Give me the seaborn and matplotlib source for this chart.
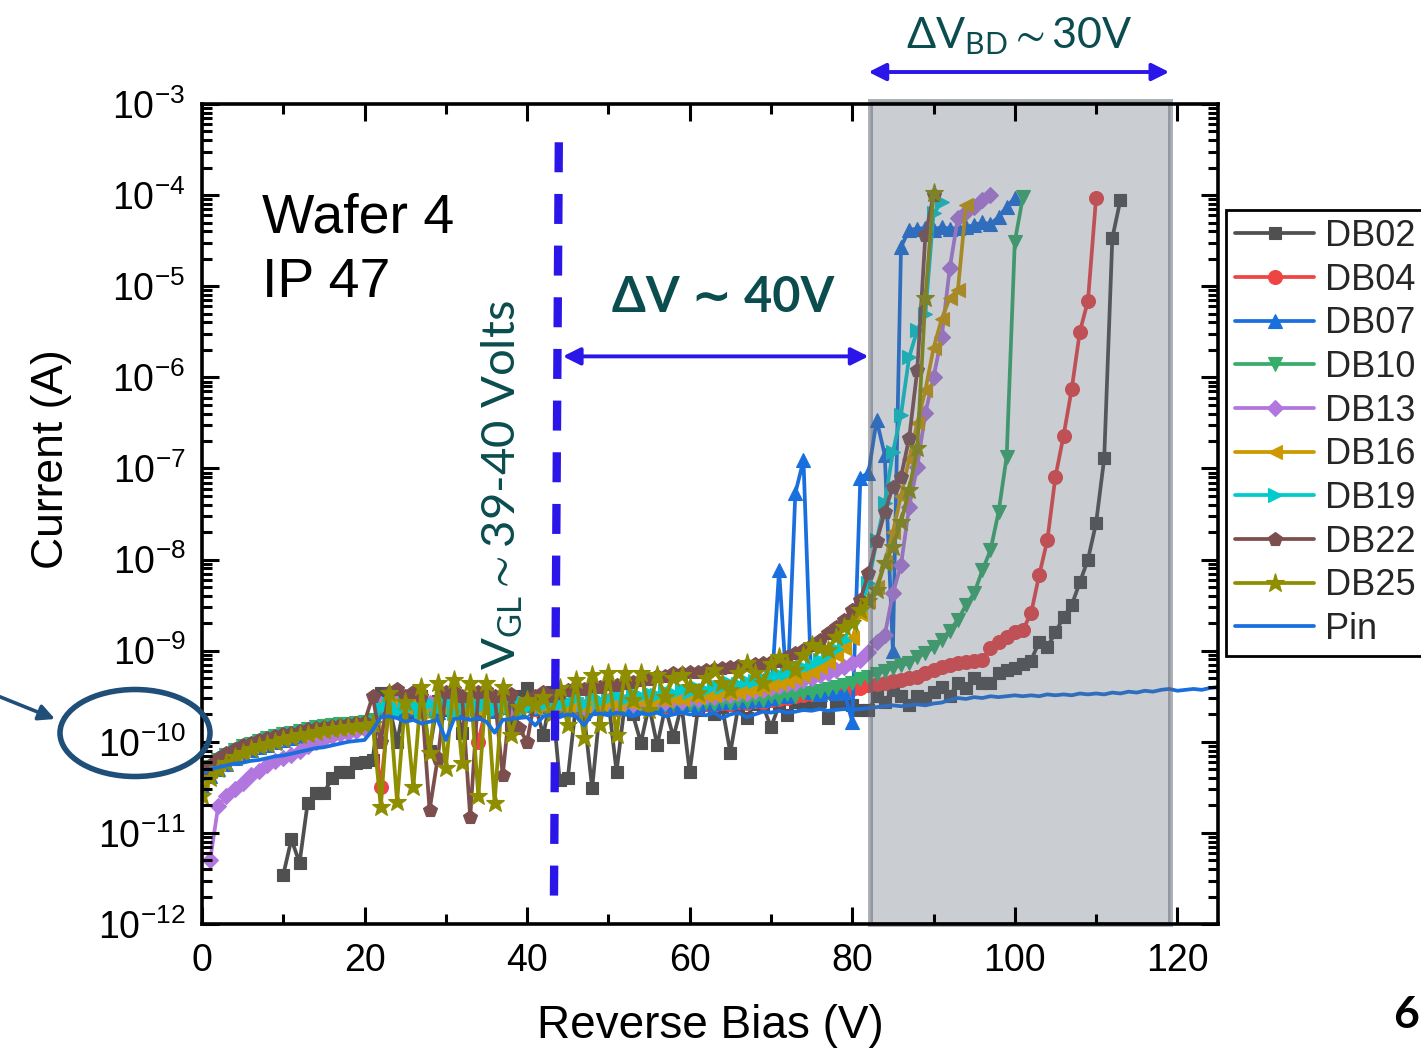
"""Reverse-bias I-V sweep of wafer 4 / IP 47 devices (DB02..DB25 and Pin)."""

import numpy as np
import matplotlib

matplotlib.use("Agg")
import matplotlib.pyplot as plt  # noqa: E402
from matplotlib.patches import Ellipse, FancyArrowPatch, Rectangle  # noqa: E402
from matplotlib.ticker import LogLocator, MultipleLocator, NullFormatter  # noqa: E402
import seaborn as sns  # noqa: E402

# bias sweep, 1 V steps; each device starts at its own first bias point
BIAS_V = np.arange(0, 126)

# log10 of the measured current (A), one value per volt
DB02_START = 10
DB02_LOG_I = [
    -11.46, -11.07, -11.33, -10.67, -10.56, -10.56, -10.40, -10.33, -10.33, -10.23,  # 10-19
    -10.22, -10.20, -9.47, -9.60, -10.00, -9.55, -9.70, -9.50, -10.10, -9.55,  # 20-29
    -9.65, -9.50, -9.90, -9.55, -9.70, -9.50, -9.60, -9.55, -9.80, -9.50,  # 30-39
    -9.41, -9.60, -9.93, -9.45, -10.42, -10.40, -9.60, -9.70, -10.51, -9.60,  # 40-49
    -9.55, -10.33, -9.60, -9.70, -10.01, -9.60, -10.04, -9.62, -9.95, -9.60,  # 50-59
    -10.33, -9.65, -9.60, -9.70, -9.62, -10.12, -9.60, -9.74, -9.58, -9.60,  # 60-69
    -9.84, -9.60, -9.71, -9.56, -9.60, -9.58, -9.55, -9.74, -9.56, -9.58,  # 70-79
    -9.60, -9.65, -9.65, -9.50, -9.56, -9.43, -9.50, -9.60, -9.50, -9.52,  # 80-89
    -9.45, -9.40, -9.50, -9.35, -9.41, -9.30, -9.35, -9.36, -9.25, -9.21,  # 90-99
    -9.19, -9.15, -9.11, -8.90, -8.96, -8.80, -8.63, -8.50, -8.25, -8.00,  # 100-109
    -7.60, -6.89, -4.47, -4.05,  # 110-113
]

DB04_START = 0
DB04_LOG_I = [
    -10.45, -10.35, -10.26, -10.20, -10.15, -10.10, -10.06, -10.03, -10.00, -9.98,
    -9.96, -9.94, -9.92, -9.90, -9.88, -9.87, -9.86, -9.85, -9.84, -9.83,
    -9.82, -9.80, -10.50, -9.62, -9.60, -9.58, -9.63, -9.60, -9.65, -9.60,
    -9.62, -9.66, -9.60, -9.62, -10.00, -9.60, -9.63, -9.60, -9.65, -9.62,
    -9.60, -9.64, -9.61, -9.63, -9.60, -9.64, -9.62, -9.65, -9.62, -9.64,
    -9.61, -9.64, -9.62, -9.63, -9.61, -9.63, -9.60, -9.62, -9.60, -9.62,
    -9.59, -9.61, -9.58, -9.60, -9.57, -9.58, -9.56, -9.57, -9.55, -9.56,
    -9.54, -9.53, -9.52, -9.50, -9.49, -9.48, -9.46, -9.45, -9.43, -9.42,
    -9.42, -9.41, -9.38, -9.37, -9.35, -9.33, -9.32, -9.30, -9.29, -9.25,
    -9.21, -9.18, -9.16, -9.14, -9.12, -9.11, -9.10, -8.97, -8.90, -8.85,
    -8.80, -8.77, -8.59, -8.17, -7.79, -7.09, -6.64, -6.13, -5.50, -5.16,
    -4.03,
]

DB07_START = 0
DB07_LOG_I = [
    -10.48, -10.38, -10.30, -10.24, -10.18, -10.13, -10.09, -10.06, -10.03, -10.00,
    -9.98, -9.96, -9.94, -9.92, -9.90, -9.88, -9.87, -9.86, -9.85, -9.84,
    -9.83, -9.81, -9.63, -9.60, -9.66, -9.61, -9.64, -9.60, -9.63, -9.67,
    -9.60, -9.62, -9.65, -9.60, -9.63, -9.61, -9.66, -9.60, -9.62, -9.64,
    -9.60, -9.63, -9.61, -9.65, -9.62, -9.63, -9.60, -9.64, -9.61, -9.63,
    -9.60, -9.62, -9.60, -9.63, -9.59, -9.61, -9.58, -9.60, -9.57, -9.59,
    -9.56, -9.58, -9.55, -9.57, -9.55, -9.56, -9.54, -9.55, -9.53, -9.54,
    -9.52, -8.12, -9.50, -7.27, -6.91, -9.45, -9.48, -9.44, -9.46, -9.45,
    -9.78, -7.10, -7.05, -6.47, -6.85, -9.00, -4.57, -4.38, -4.37, -4.36,
    -4.38, -4.35, -4.37, -4.36, -4.35, -4.33, -4.30, -4.32, -4.24, -4.13,
    -4.03,
]

DB10_START = 0
DB10_LOG_I = [
    -10.38, -10.28, -10.20, -10.14, -10.09, -10.05, -10.02, -9.99, -9.96, -9.94,
    -9.92, -9.90, -9.88, -9.86, -9.84, -9.83, -9.82, -9.81, -9.80, -9.79,
    -9.78, -9.76, -9.62, -9.60, -9.65, -9.58, -9.62, -9.60, -9.66, -9.59,
    -9.63, -9.60, -9.57, -9.64, -9.60, -9.62, -9.58, -9.63, -9.60, -9.65,
    -9.60, -9.62, -9.58, -9.63, -9.60, -9.62, -9.60, -9.64, -9.60, -9.62,
    -9.59, -9.63, -9.60, -9.61, -9.58, -9.62, -9.59, -9.60, -9.57, -9.60,
    -9.58, -9.59, -9.56, -9.58, -9.55, -9.57, -9.54, -9.55, -9.52, -9.54,
    -9.50, -9.52, -9.48, -9.50, -9.46, -9.47, -9.44, -9.42, -9.40, -9.38,
    -9.36, -9.31, -9.29, -9.26, -9.22, -9.19, -9.16, -9.14, -9.07, -9.03,
    -8.96, -8.88, -8.78, -8.66, -8.50, -8.37, -8.12, -7.90, -7.48, -6.87,
    -4.51, -4.02,
]

DB13_START = 1
DB13_LOG_I = [
    -11.30, -10.70, -10.60, -10.52, -10.45, -10.37, -10.32, -10.26, -10.21, -10.18,  # 1-10
    -10.15, -10.10, -10.05, -10.00, -9.97, -9.94, -9.92, -9.90, -9.88, -9.86,
    -9.83, -9.58, -9.62, -9.55, -9.60, -9.52, -9.63, -9.57, -9.60, -9.54,
    -9.62, -9.58, -9.55, -9.61, -9.57, -9.60, -9.55, -9.62, -9.58, -9.56,
    -9.60, -9.57, -9.62, -9.58, -9.60, -9.57, -9.62, -9.56, -9.60, -9.55,
    -9.59, -9.56, -9.58, -9.55, -9.57, -9.54, -9.56, -9.53, -9.55, -9.52,
    -9.53, -9.50, -9.51, -9.48, -9.49, -9.46, -9.46, -9.44, -9.43, -9.41,
    -9.39, -9.37, -9.35, -9.32, -9.30, -9.27, -9.24, -9.21, -9.18, -9.14,
    -9.10, -9.02, -8.90, -8.83, -8.37, -8.06, -7.42, -6.98, -6.39, -6.00,
    -5.56, -4.80, -4.25, -4.18, -4.13, -4.05, -4.00,  # 91-97
]

DB16_START = 0
DB16_LOG_I = [
    -10.42, -10.32, -10.24, -10.18, -10.13, -10.09, -10.05, -10.02, -10.00, -9.97,
    -9.95, -9.93, -9.91, -9.89, -9.87, -9.86, -9.85, -9.84, -9.83, -9.82,
    -9.81, -9.79, -9.60, -9.65, -9.55, -9.62, -9.58, -9.66, -9.60, -9.56,
    -9.64, -9.59, -9.62, -9.57, -9.65, -9.60, -9.58, -9.63, -9.57, -9.61,
    -9.58, -9.63, -9.60, -9.57, -9.60, -9.60, -9.58, -9.61, -9.57, -9.59,
    -9.56, -9.58, -9.55, -9.57, -9.54, -9.56, -9.53, -9.54, -9.52, -9.53,
    -9.50, -9.51, -9.49, -9.49, -9.47, -9.46, -9.45, -9.43, -9.42, -9.40,
    -9.38, -9.36, -9.33, -9.30, -9.27, -9.23, -9.18, -9.12, -9.05, -8.97,
    -8.86, -8.60, -8.45, -8.30, -8.03, -7.70, -7.30, -6.90, -6.50, -6.14,
    -5.68, -5.36, -5.13, -5.04, -4.11,
]

DB19_START = 0
DB19_LOG_I = [
    -10.40, -10.30, -10.22, -10.16, -10.11, -10.07, -10.04, -10.01, -9.98, -9.96,
    -9.94, -9.92, -9.90, -9.88, -9.86, -9.85, -9.84, -9.83, -9.82, -9.81,
    -9.80, -9.78, -9.62, -9.58, -9.66, -9.55, -9.60, -9.70, -9.57, -9.63,
    -9.56, -9.68, -9.60, -9.55, -9.62, -9.58, -9.65, -9.56, -9.60, -9.54,
    -9.62, -9.57, -9.60, -9.55, -9.58, -9.56, -9.52, -9.58, -9.50, -9.55,
    -9.52, -9.49, -9.53, -9.47, -9.50, -9.46, -9.49, -9.44, -9.47, -9.42,
    -9.45, -9.41, -9.43, -9.38, -9.40, -9.36, -9.37, -9.33, -9.33, -9.30,
    -9.28, -9.26, -9.24, -9.20, -9.18, -9.15, -9.10, -9.05, -8.98, -8.88,
    -8.70, -8.55, -8.26, -7.79, -7.38, -6.82, -6.41, -5.78, -5.48, -5.30,
    -4.20, -4.08,
]

DB22_START = 0
DB22_LOG_I = [
    -10.35, -10.25, -10.18, -10.12, -10.08, -10.04, -10.01, -9.98, -9.96, -9.94,
    -9.92, -9.90, -9.88, -9.86, -9.85, -9.84, -9.83, -9.82, -9.80, -9.79,
    -9.78, -9.50, -10.00, -9.45, -9.42, -9.50, -9.45, -9.50, -10.75, -10.18,
    -9.45, -9.42, -9.50, -10.83, -9.45, -9.43, -9.50, -10.37, -9.48, -9.85,
    -10.00, -9.50, -9.45, -9.50, -9.47, -9.43, -9.40, -9.42, -9.39, -9.40,
    -9.37, -9.38, -9.35, -9.34, -9.32, -9.31, -9.28, -9.28, -9.25, -9.25,
    -9.23, -9.23, -9.21, -9.20, -9.19, -9.18, -9.17, -9.16, -9.15, -9.14,
    -9.12, -9.11, -9.07, -9.03, -8.99, -8.94, -8.88, -8.81, -8.74, -8.66,
    -8.55, -8.44, -8.15, -7.80, -7.48, -7.20, -7.09, -6.67, -5.92, -4.44,
    -4.00,
]

DB25_START = 0
DB25_LOG_I = [
    -10.60, -10.40, -10.30, -10.23, -10.17, -10.12, -10.08, -10.05, -10.02, -10.00,
    -9.97, -9.95, -9.93, -9.91, -9.89, -9.87, -9.86, -9.85, -9.84, -9.83,
    -9.82, -9.80, -10.72, -9.47, -10.66, -9.56, -10.50, -9.40, -10.12, -9.36,
    -10.29, -9.32, -10.23, -9.36, -10.60, -9.36, -10.67, -9.40, -9.93, -9.62,
    -9.54, -9.60, -9.51, -9.70, -9.41, -9.82, -9.32, -9.96, -9.27, -9.82,
    -9.25, -9.93, -9.25, -9.54, -9.25, -9.65, -9.27, -9.51, -9.30, -9.27,
    -9.40, -9.47, -9.30, -9.21, -9.35, -9.43, -9.25, -9.14, -9.25, -9.36,
    -9.15, -9.07, -9.15, -9.21, -9.05, -8.94, -8.97, -8.99, -8.85, -8.74,
    -8.70, -8.55, -8.45, -8.33, -8.04, -7.86, -7.59, -7.24, -6.78, -5.13,
    -3.98,
]

PIN_START = 0
PIN_LOG_I = [
    -10.35, -10.30, -10.28, -10.26, -10.24, -10.23, -10.21, -10.20, -10.18, -10.16,
    -10.15, -10.13, -10.11, -10.09, -10.07, -10.06, -10.04, -10.02, -10.00, -9.99,
    -9.98, -9.87, -9.73, -9.72, -9.74, -9.78, -9.76, -9.80, -9.78, -9.76,
    -9.98, -9.75, -9.74, -9.76, -9.74, -9.78, -9.90, -9.76, -9.75, -9.74,
    -9.73, -9.82, -9.72, -9.70, -9.73, -9.70, -9.72, -9.82, -9.70, -9.69,
    -9.71, -9.68, -9.70, -9.72, -9.69, -9.70, -9.68, -9.72, -9.70, -9.68,
    -9.70, -9.69, -9.71, -9.68, -9.74, -9.70, -9.68, -9.73, -9.70, -9.67,
    -9.68, -9.66, -9.68, -9.67, -9.65, -9.66, -9.64, -9.66, -9.65, -9.64,
    -9.65, -9.64, -9.63, -9.62, -9.61, -9.60, -9.61, -9.60, -9.59, -9.60,
    -9.58, -9.57, -9.54, -9.52, -9.53, -9.51, -9.52, -9.50, -9.51, -9.50,
    -9.49, -9.50, -9.49, -9.50, -9.48, -9.49, -9.48, -9.49, -9.47, -9.48,
    -9.47, -9.48, -9.46, -9.47, -9.45, -9.46, -9.44, -9.45, -9.43, -9.42,
    -9.44, -9.43, -9.42, -9.43, -9.41, -9.40,
]

SERIES = [
    ("DB02", DB02_START, DB02_LOG_I),
    ("DB04", DB04_START, DB04_LOG_I),
    ("DB07", DB07_START, DB07_LOG_I),
    ("DB10", DB10_START, DB10_LOG_I),
    ("DB13", DB13_START, DB13_LOG_I),
    ("DB16", DB16_START, DB16_LOG_I),
    ("DB19", DB19_START, DB19_LOG_I),
    ("DB22", DB22_START, DB22_LOG_I),
    ("DB25", DB25_START, DB25_LOG_I),
    ("Pin", PIN_START, PIN_LOG_I),
]

X_TICKS = [0, 20, 40, 60, 80, 100, 120]
Y_TICK_EXPONENTS = [-12, -11, -10, -9, -8, -7, -6, -5, -4, -3]

_COLORS = {
    "DB02": "#505050",
    "DB04": "#ef4444",
    "DB07": "#1a6fdf",
    "DB10": "#37ad6b",
    "DB13": "#b177de",
    "DB16": "#cc9900",
    "DB19": "#00cbcc",
    "DB22": "#7d4e4e",
    "DB25": "#8e8e00",
    "Pin": "#1a6fdf",
}
_MARKERS = {
    "DB02": ("s", 9.0),
    "DB04": ("o", 10.0),
    "DB07": ("^", 10.5),
    "DB10": ("v", 10.5),
    "DB13": ("D", 8.5),
    "DB16": ("<", 10.5),
    "DB19": (">", 10.5),
    "DB22": ("p", 10.5),
    "DB25": ("*", 14.0),
    "Pin": (None, 0),
}
TEAL = "#0b4d4f"
ARROW_BLUE = "#2a16e8"
CIRCLE_BLUE = "#1f4e79"
ANNOT_FONT = ["Lato", "DejaVu Sans"]

W_PX, H_PX = 1421, 1058


def fig_xy(px, py):
    """Pixel position in the 1421x1058 canvas to figure fraction."""
    return px / W_PX, 1 - py / H_PX


sns.set_theme(style="ticks")
plt.rcParams.update(
    {
        "font.family": ["Liberation Sans", "DejaVu Sans"],
        "mathtext.fontset": "custom",
        "mathtext.rm": "Liberation Sans",
        "mathtext.it": "Liberation Sans:italic",
        "mathtext.bf": "Liberation Sans:bold",
        "mathtext.default": "regular",
        "axes.unicode_minus": True,
    }
)

fig = plt.figure(figsize=(W_PX / 100, H_PX / 100), dpi=100)
left, top = fig_xy(202, 104)
right, bottom = fig_xy(1218, 924)
ax = fig.add_axes([left, bottom, right - left, top - bottom])
ax.set_yscale("log")

for name, start, logs in SERIES:
    volts = BIAS_V[start:start + len(logs)]
    current = 10.0 ** np.asarray(logs)
    marker, msize = _MARKERS[name]
    sns.lineplot(
        x=volts,
        y=current,
        ax=ax,
        color=_COLORS[name],
        marker=marker,
        markersize=msize,
        markeredgecolor=_COLORS[name],
        markeredgewidth=0.8,
        linewidth=2.7,
        label=name,
        sort=False,
        estimator=None,
    )

handles, labels = ax.get_legend_handles_labels()
if ax.get_legend() is not None:
    ax.get_legend().remove()

ax.set_xlim(0, 125)
ax.set_ylim(1e-12, 1e-3)
ax.set_xticks(X_TICKS)
ax.xaxis.set_minor_locator(MultipleLocator(10))
ax.set_yticks(
    [10.0 ** e for e in Y_TICK_EXPONENTS],
    labels=[rf"$10^{{{e}}}$" for e in Y_TICK_EXPONENTS],
)
ax.yaxis.set_minor_locator(LogLocator(base=10, subs=np.arange(2, 10), numticks=30))
ax.yaxis.set_minor_formatter(NullFormatter())
ax.tick_params(which="both", direction="in", top=True, right=True, width=2.2,
               color="black", labelcolor="black")
ax.tick_params(which="major", length=12, labelsize=27)
ax.tick_params(which="minor", length=7)
ax.tick_params(axis="x", pad=14)
ax.tick_params(axis="y", pad=12)
for spine in ax.spines.values():
    spine.set_linewidth(2.6)
    spine.set_color("black")
    spine.set_zorder(7)
ax.set_axisbelow(False)
ax.xaxis.set_zorder(7)
ax.yaxis.set_zorder(7)

ax.set_xlabel("Reverse Bias (V)", fontsize=33, color="black")
ax.set_ylabel("Current (A)", fontsize=32, color="black")
ax.xaxis.set_label_coords(0.5, -0.097)
ax.yaxis.set_label_coords(-0.128, 0.567)

# translucent breakdown window laid over the curves
ax.add_patch(
    Rectangle(
        (82.2, 0), 119.1 - 82.2, 1.004,
        transform=ax.get_xaxis_transform(),
        facecolor=(0.37, 0.42, 0.48, 0.33),
        edgecolor=(0.36, 0.39, 0.43, 0.5),
        linewidth=3.6,
        zorder=4,
        clip_on=False,
    )
)

# gate-leakage marker and spacing arrows
ax.plot([43.9, 43.3], [10 ** -3.42, 10 ** -11.74], color=ARROW_BLUE, linewidth=6,
        dashes=(3.6, 2.6), zorder=6, solid_capstyle="butt")
ax.annotate(
    "", xy=(82.0, 10 ** -5.77), xytext=(44.4, 10 ** -5.77),
    arrowprops=dict(arrowstyle="<|-|>", color=ARROW_BLUE, lw=2.8,
                    mutation_scale=26, shrinkA=0, shrinkB=0),
    zorder=8,
)
ax.annotate(
    "", xy=(119.0, 1.039), xytext=(82.0, 1.039),
    xycoords=ax.get_xaxis_transform(), textcoords=ax.get_xaxis_transform(),
    arrowprops=dict(arrowstyle="<|-|>", color=ARROW_BLUE, lw=2.8,
                    mutation_scale=26, shrinkA=0, shrinkB=0),
    annotation_clip=False, zorder=8,
)

ax.text(64.1, 10 ** -5.12, "ΔV ∼ 40V", fontfamily=ANNOT_FONT, fontweight="bold",
        fontsize=35, color=TEAL, ha="center", va="center", zorder=8)
ax.text(100.6, 1.083, r"ΔV$_{\mathregular{BD}}\sim$30V", fontfamily=ANNOT_FONT,
        fontsize=31, color=TEAL, ha="center", va="center",
        transform=ax.get_xaxis_transform(), zorder=8)
ax.text(36.9, 10 ** -7.18, r"V$_{\mathregular{GL}}\sim$39-40 Volts",
        fontfamily=ANNOT_FONT, fontsize=34, color=TEAL, ha="center", va="center",
        rotation=90, zorder=8)
ax.text(7.4, 10 ** -4.405, "Wafer 4", fontsize=40, color="black", va="baseline", zorder=8)
ax.text(7.4, 10 ** -5.119, "IP 47", fontsize=40, color="black", va="baseline", zorder=8)

# highlight of the 1e-10 tick label
fig.add_artist(
    Ellipse(fig_xy(135, 733), 150 / W_PX, 87 / H_PX, transform=fig.transFigure,
            fill=False, edgecolor=CIRCLE_BLUE, linewidth=4)
)
fig.add_artist(
    FancyArrowPatch(
        fig_xy(-2, 696), fig_xy(55, 719), transform=fig.transFigure,
        arrowstyle="-|>", mutation_scale=24, color=CIRCLE_BLUE, lw=2.6,
        shrinkA=0, shrinkB=0,
    )
)
fig.text(*fig_xy(1393, 1015), "6", fontfamily=ANNOT_FONT, fontweight="bold", fontsize=32,
         ha="left", va="center", color="black")

legend = fig.legend(
    handles, labels,
    loc="upper left", bbox_to_anchor=fig_xy(1226, 210),
    fontsize=26, frameon=True, fancybox=False, edgecolor="black", framealpha=1,
    handlelength=2.2, handletextpad=0.3, borderpad=0.25, labelspacing=0.24,
    borderaxespad=0,
)
legend.get_frame().set_linewidth(2.0)

fig.savefig("out.png", dpi=100)
